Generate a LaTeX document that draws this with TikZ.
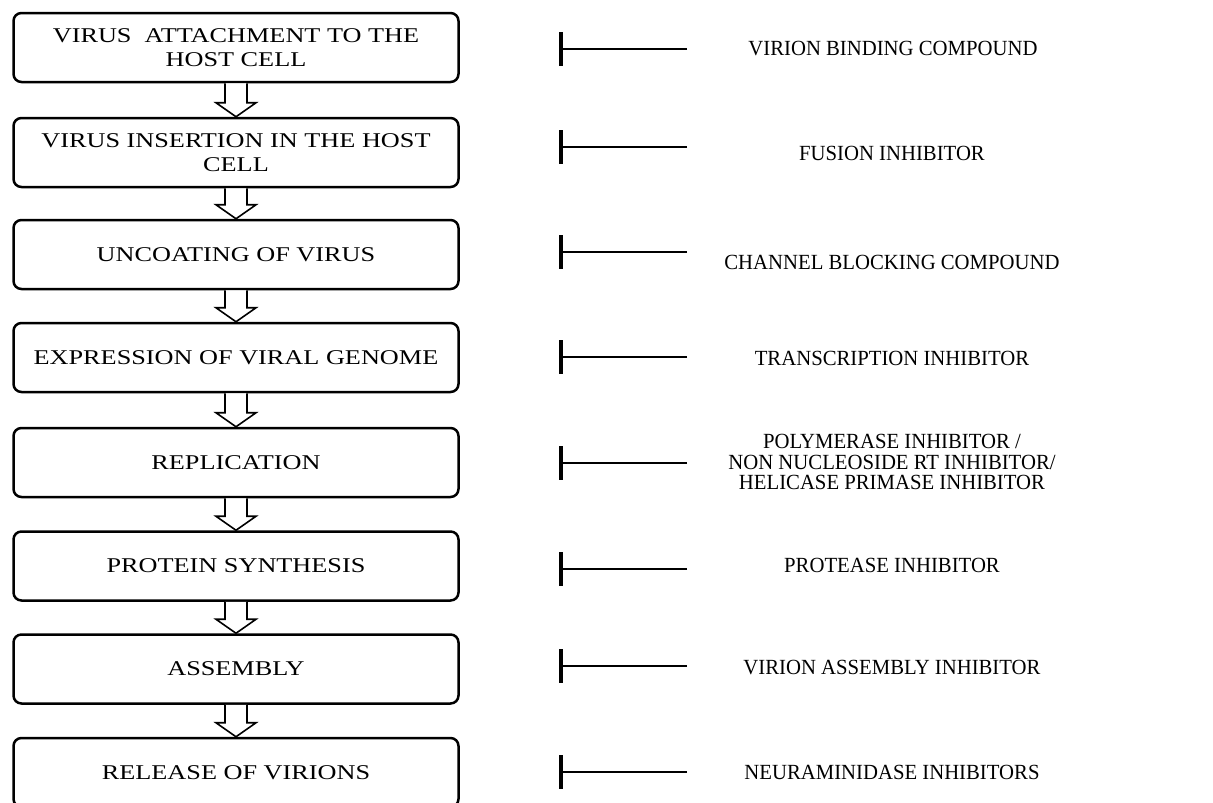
\documentclass[tikz,border=0pt]{standalone}
\usepackage{fontspec}
\setmainfont{Liberation Serif}
\newfontfamily\boxfont[FakeStretch=1.25]{Liberation Serif}
\newfontfamily\drugfont[FakeStretch=0.96]{Liberation Serif}
\begin{document}
\begin{tikzpicture}[x=1pt,y=-1pt,
  stage/.style={draw, line width=2.5pt, rounded corners=8pt, minimum width=445pt,
    minimum height=69pt, align=center, inner sep=0pt,
    font=\boxfont\fontsize{21}{23.5}\selectfont},
  drug/.style={align=center, inner sep=0pt, font=\drugfont\fontsize{21.6}{20.5}\selectfont},
  blockarrow/.style={draw, line width=1.6pt, fill=white, line join=miter},
  inhibline/.style={line width=2.7pt},
  inhibbar/.style={line width=3.4pt}]
\useasboundingbox[fill=white] (0,0) rectangle (1213,803);

% stages
\node[stage] (b1) at (236,47.5) {VIRUS\ \ ATTACHMENT TO THE\\HOST CELL};
\node[stage] (b2) at (236,152.5) {VIRUS INSERTION IN THE HOST\\CELL};
\node[stage] (b3) at (236,254.5) {UNCOATING OF VIRUS};
\node[stage] (b4) at (236,357.5) {EXPRESSION OF VIRAL GENOME};
\node[stage] (b5) at (236,462.5) {REPLICATION};
\node[stage] (b6) at (236,566) {PROTEIN SYNTHESIS};
\node[stage] (b7) at (236,669) {ASSEMBLY};
\node[stage] (b8) at (236,772.5) {RELEASE OF VIRIONS};

% block arrows
\foreach \a/\b in {b1/b2,b2/b3,b3/b4,b4/b5,b5/b6,b6/b7,b7/b8}{
  \draw[blockarrow] ([xshift=-11pt]\a.south) -- ([xshift=-11pt,yshift=14pt]\b.north)
    -- ([xshift=-20pt,yshift=14pt]\b.north) -- (\b.north)
    -- ([xshift=20pt,yshift=14pt]\b.north) -- ([xshift=11pt,yshift=14pt]\b.north)
    -- ([xshift=11pt]\a.south);
}

% drug labels
\node[drug] (d1) at (893,49) {VIRION BINDING COMPOUND};
\node[drug] (d2) at (892,153) {FUSION INHIBITOR};
\node[drug] (d3) at (892,262) {CHANNEL BLOCKING COMPOUND};
\node[drug] (d4) at (892,358) {TRANSCRIPTION INHIBITOR};
\node[drug] (d5) at (892,462) {POLYMERASE INHIBITOR /\\NON NUCLEOSIDE RT INHIBITOR/\\HELICASE PRIMASE INHIBITOR};
\node[drug] (d6) at (892,565) {PROTEASE INHIBITOR};
\node[drug] (d7) at (892,668) {VIRION ASSEMBLY INHIBITOR};
\node[drug] (d8) at (892,772) {NEURAMINIDASE INHIBITORS};

% inhibition symbols
\foreach \i/\y in {1/49,2/147,3/252,4/357,5/463,6/569,7/666,8/772}{
  \coordinate (t\i) at (687,\y);
  \coordinate (h\i) at (561,\y);
  \draw[inhibline] (t\i) -- (h\i);
  \draw[inhibbar] ([yshift=17pt]h\i) -- ([yshift=-17pt]h\i);
}
\end{tikzpicture}
\end{document}
